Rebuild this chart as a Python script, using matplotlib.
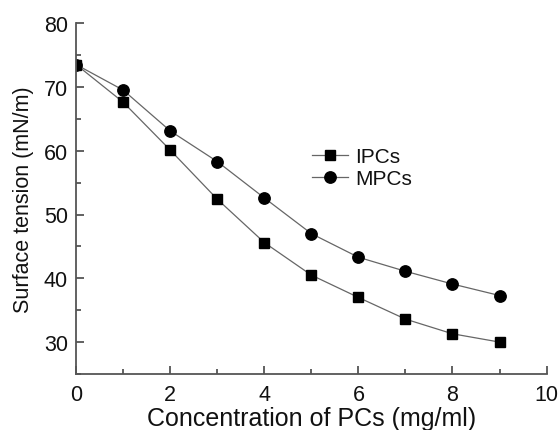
import numpy as np
import matplotlib
matplotlib.use('Agg')
import matplotlib.pyplot as plt
from matplotlib.ticker import MultipleLocator

plt.rcParams['font.family'] = ['Liberation Sans', 'DejaVu Sans']

# data
conc = [0, 1, 2, 3, 4, 5, 6, 7, 8, 9]
ipcs = [73.5, 67.6, 60.1, 52.4, 45.6, 40.5, 37.0, 33.6, 31.3, 30.0]
mpcs = [73.5, 69.5, 63.1, 58.3, 52.6, 47.0, 43.3, 41.1, 39.1, 37.3]

fig = plt.figure(figsize=(5.6, 4.31), dpi=100)
ax = fig.add_axes([0.136, 0.130, 0.840, 0.814])

ax.plot(conc, ipcs, color='#666666', lw=0.9, marker='s', ms=7.2,
        mfc='black', mec='black', label='IPCs')
ax.plot(conc, mpcs, color='#666666', lw=0.9, marker='o', ms=8.2,
        mfc='black', mec='black', label='MPCs')

ax.set_xlim(0, 10)
ax.set_ylim(25, 80)
ax.xaxis.set_major_locator(MultipleLocator(2))
ax.xaxis.set_minor_locator(MultipleLocator(1))
ax.yaxis.set_major_locator(MultipleLocator(10))
ax.yaxis.set_minor_locator(MultipleLocator(5))

for s in ['top', 'right']:
    ax.spines[s].set_visible(False)
for s in ['left', 'bottom']:
    ax.spines[s].set_color('#555555')
    ax.spines[s].set_linewidth(1.3)

ax.tick_params(which='both', direction='in', colors='#555555', labelcolor='#111111',
               labelsize=15.5, width=1.3)
ax.tick_params(which='major', length=6)
ax.tick_params(which='minor', length=3.5)
ax.tick_params(axis='x', pad=7)
ax.tick_params(axis='y', pad=6)

ax.set_xlabel('Concentration of PCs (mg/ml)', fontsize=18, labelpad=1, color='#111111')
ax.set_ylabel('Surface tension (mN/m)', fontsize=15.5, labelpad=7, color='#111111')

leg = ax.legend(loc='upper left', bbox_to_anchor=(0.462, 0.70), frameon=False,
                fontsize=15, handlelength=1.7, handletextpad=0.35, labelspacing=0.15)
for t in leg.get_texts():
    t.set_color('#111111')

plt.savefig('out.png', dpi=100)
